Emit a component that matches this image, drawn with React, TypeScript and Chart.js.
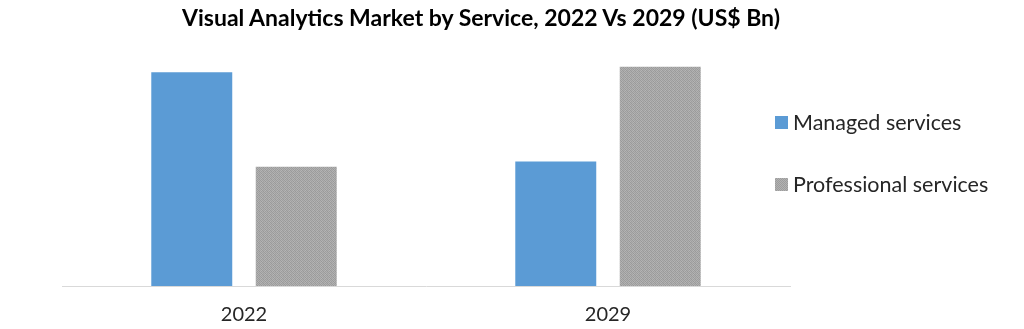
import React, { useEffect, useRef } from "react";
import { Chart, registerables } from "chart.js";

Chart.register(...registerables);

const title = "Visual Analytics Market by Service, 2022 Vs 2029 (US$ Bn)";
const categories = ["2022", "2029"];
const seriesNames = ["Managed services", "Professional services"];
const managedValues = [2.01, 1.17];
const professionalValues = [1.12, 2.06];
const yMax = 2.5;

const BLUE = "#5B9BD5";
const FONT = "Lato, 'Open Sans', sans-serif";

function makeGrayPattern(): CanvasPattern | string {
  const c = document.createElement("canvas");
  c.width = 4;
  c.height = 4;
  const ctx = c.getContext("2d");
  if (!ctx) return "#a6a6a6";
  const shades = [
    "#9c9c9c", "#b2b2b2", "#a0a0a0", "#aeaeae",
    "#b0b0b0", "#989898", "#b4b4b4", "#9e9e9e",
    "#a2a2a2", "#b6b6b6", "#9a9a9a", "#acacac",
    "#b3b3b3", "#9d9d9d", "#afafaf", "#999999",
  ];
  for (let i = 0; i < 16; i++) {
    ctx.fillStyle = shades[i];
    ctx.fillRect(i % 4, Math.floor(i / 4), 1, 1);
  }
  const p = ctx.createPattern(c, "repeat");
  return p || "#a6a6a6";
}

export default function App() {
  const canvasRef = useRef<HTMLCanvasElement | null>(null);

  useEffect(() => {
    document.body.style.margin = "0";
    const canvas = canvasRef.current;
    if (!canvas) return;
    const gray = makeGrayPattern();
    const chart = new Chart(canvas, {
      type: "bar",
      data: {
        labels: categories,
        datasets: [
          {
            label: seriesNames[0],
            data: managedValues,
            backgroundColor: BLUE,
            borderWidth: 0,
            categoryPercentage: 0.574,
            barPercentage: 0.775,
          },
          {
            label: seriesNames[1],
            data: professionalValues,
            backgroundColor: gray as any,
            borderWidth: 0,
            categoryPercentage: 0.574,
            barPercentage: 0.775,
          },
        ],
      },
      options: {
        animation: false,
        responsive: false,
        maintainAspectRatio: false,
        layout: { padding: { left: 62, right: 234, top: 20, bottom: -15 } },
        plugins: {
          legend: { display: false },
          title: { display: false },
          tooltip: { enabled: false },
        },
        scales: {
          x: {
            grid: { display: false, drawTicks: false },
            border: { display: true, color: "#d9d9d9", width: 1 },
            ticks: {
              color: "#262626",
              font: { family: FONT, size: 20, lineHeight: 1.2 },
              padding: 17,
            },
          },
          y: {
            display: false,
            min: 0,
            max: yMax,
          },
        },
      },
    });
    return () => chart.destroy();
  }, []);

  const legendItem = (i: number, top: number) => (
    <div
      key={i}
      style={{
        position: "absolute",
        left: 775,
        top: top - 14,
        height: 28,
        display: "flex",
        alignItems: "center",
        fontFamily: FONT,
        fontSize: 21.5,
        color: "#262626",
        whiteSpace: "nowrap",
      }}
    >
      <span
        style={{
          display: "inline-block",
          width: 13,
          height: 13,
          marginRight: 5,
          background:
            i === 0
              ? BLUE
              : "repeating-conic-gradient(#9c9c9c 0 25%, #b2b2b2 0 50%) 0 0/2px 2px",
        }}
      />
      <span>{seriesNames[i]}</span>
    </div>
  );

  return (
    <div style={{ position: "relative", width: 1024, height: 329, overflow: "hidden" }}>
      <canvas ref={canvasRef} width={1024} height={329} style={{ display: "block" }} />
      <div
        style={{
          position: "absolute",
          left: 0,
          top: 3,
          width: 962,
          textAlign: "center",
          fontFamily: FONT,
          fontWeight: "bold",
          fontSize: 23,
          color: "#000",
          whiteSpace: "nowrap",
        }}
      >
        {title}
      </div>
      {legendItem(0, 122)}
      {legendItem(1, 184)}
    </div>
  );
}
